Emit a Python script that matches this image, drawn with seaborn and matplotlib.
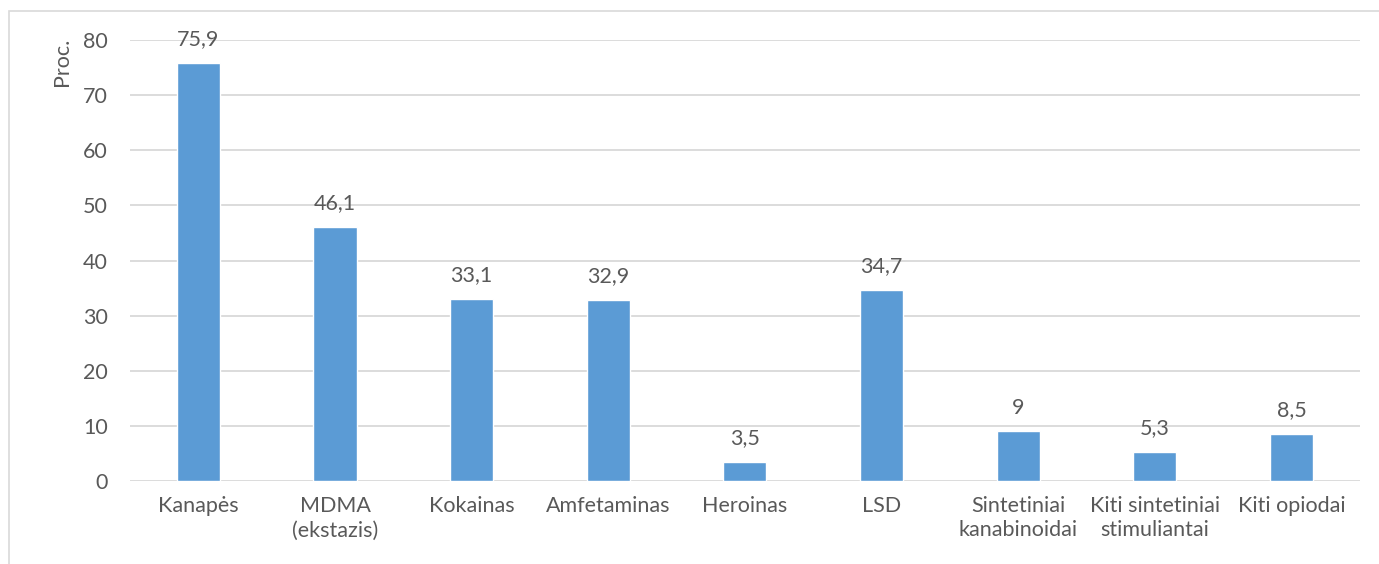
import matplotlib
matplotlib.use('Agg')
import matplotlib.pyplot as plt
import seaborn as sns
import pandas as pd
from matplotlib.patches import Rectangle

# Data
categories = ['Kanapės', 'MDMA\n(ekstazis)', 'Kokainas', 'Amfetaminas', 'Heroinas',
              'LSD', 'Sintetiniai\nkanabinoidai', 'Kiti sintetiniai\nstimuliantai', 'Kiti opiodai']
values = [75.9, 46.1, 33.1, 32.9, 3.5, 34.7, 9, 5.3, 8.5]
value_labels = ['75,9', '46,1', '33,1', '32,9', '3,5', '34,7', '9', '5,3', '8,5']
y_ticks = [0, 10, 20, 30, 40, 50, 60, 70, 80]

df = pd.DataFrame({'category': categories, 'value': values})

sns.set_theme(style='white')
plt.rcParams['font.family'] = ['Lato', 'DejaVu Sans']

text_color = '#595959'
bar_color = '#5B9BD5'
grid_color = '#D9D9D9'
fs = 15.5

fig = plt.figure(figsize=(13.79, 5.64), dpi=100)
ax = fig.add_axes([0.0943, 0.147, 0.8917, 0.782])

sns.barplot(data=df, x='category', y='value', color=bar_color, width=0.315,
            saturation=1, ax=ax, zorder=3)

ax.set_ylim(0, 80)
ax.set_yticks(y_ticks)
ax.yaxis.grid(True, color=grid_color, linewidth=1.3, zorder=0)
ax.set_axisbelow(True)
for s in ax.spines.values():
    s.set_visible(False)

ax.tick_params(axis='y', length=0, pad=16, labelsize=fs, labelcolor=text_color)
ax.tick_params(axis='x', length=0, pad=11, labelsize=fs, labelcolor=text_color)
for t in ax.get_xticklabels():
    t.set_linespacing(1.25)
ax.set_xlabel('')
ax.set_ylabel('Proc.', fontsize=fs, color=text_color)
ax.yaxis.set_label_coords(-0.047, 0.95)

for patch, lab in zip(ax.patches, value_labels):
    ax.annotate(lab, (patch.get_x() + patch.get_width() / 2, patch.get_height()),
                xytext=(0, 10), textcoords='offset points', ha='center', va='bottom',
                fontsize=fs, color=text_color)

# outer chart frame
fig.patches.append(Rectangle((9 / 1379, -0.1), 1.1, 1 - 11 / 564 + 0.1,
                             transform=fig.transFigure, fill=False,
                             edgecolor='#D9D9D9', linewidth=1.2))

fig.savefig('out.png', dpi=100)
